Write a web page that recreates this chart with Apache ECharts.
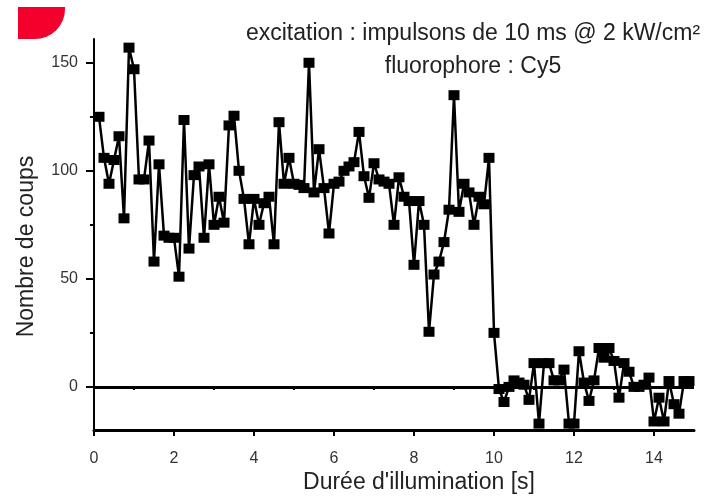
<!DOCTYPE html>
<html>
<head>
<meta charset="utf-8">
<script src="https://cdn.jsdelivr.net/npm/echarts@6/dist/echarts.min.js"></script>
<style>
    html, body { margin: 0; padding: 0; background: #fff; }
    #main { width: 712px; height: 499px; }
</style>
</head>
<body>
<div id="main"></div>
<script>
    // pas d'acquisition (s)
    var step = 0.125;
    // nombre de coups, un point par pas
    var counts = [
        125, 106, 94, 105, 116, 78, 157, 147, 96, 96,
        114, 58, 103, 70, 69, 69, 51, 123.5, 64, 98,
        102, 69, 103, 75, 88, 76, 121, 125.5, 100, 87,
        66, 87, 75, 85, 88, 66, 122.5, 94, 106, 94,
        93.5, 92, 150, 90, 110, 92, 71, 94, 95, 100,
        102, 104, 118, 97.5, 87.5, 103.5, 96, 95, 94, 75,
        97, 88, 86, 56.5, 86, 75, 25.5, 52, 58, 67,
        82, 135, 81, 94, 90, 75, 88, 84.5, 106, 25,
        -1, -7, 0, 3, 2, 1, -6, 11, -17, 11,
        11, 3, 3, 8, -17, -17, 16.5, 2, -6.5, 3,
        18, 13.5, 18, 12, -5, 11, 7, 0, 0, 1,
        4.3, -16, -5, -16, 2.7, -8, -12.4, 2.7, 2.7
    ];
    var xMajor = [0, 2, 4, 6, 8, 10, 12, 14];
    var xMinor = [1, 3, 5, 7, 9, 11, 13];
    var yMajor = [0, 50, 100, 150];
    var yMinor = [25, 75, 125];

    var points = [];
    for (var i = 0; i < counts.length; i++) {
        points.push([(i + 1) * step, counts[i]]);
    }

    var font = 'Liberation Sans';
    var myChart = echarts.init(document.getElementById('main'));
    var option = {
        animation: false,
        backgroundColor: '#fff',
        grid: { left: 94, right: 18, top: 39, bottom: 62 },
        graphic: [
            {
                type: 'rect',
                shape: { x: 18, y: 7, width: 47, height: 32, r: [0, 0, 30, 0] },
                style: { fill: '#f3002c' }
            },
            {
                type: 'text', x: 473, y: 34,
                style: {
                    text: 'excitation : impulsons de 10 ms @ 2 kW/cm²',
                    fontFamily: font, fontSize: 23, fill: '#222',
                    textAlign: 'center', textVerticalAlign: 'middle'
                }
            },
            {
                type: 'text', x: 473, y: 67,
                style: {
                    text: 'fluorophore : Cy5',
                    fontFamily: font, fontSize: 23, fill: '#222',
                    textAlign: 'center', textVerticalAlign: 'middle'
                }
            }
        ],
        xAxis: [
            {
                type: 'value', min: 0, max: 15,
                name: "Durée d'illumination [s]",
                nameLocation: 'middle', nameGap: 36,
                nameTextStyle: { fontFamily: font, fontSize: 23, color: '#222', padding: [0, 0, 0, 50] },
                axisLine: { onZero: false, lineStyle: { color: '#000', width: 3 } },
                axisTick: { customValues: xMajor, length: 6, lineStyle: { color: '#000', width: 2 } },
                axisLabel: { customValues: xMajor, margin: 20, fontFamily: font, fontSize: 16, color: '#333' },
                splitLine: { show: false }
            },
            {
                type: 'value', min: 0, max: 15, position: 'bottom',
                axisLine: { show: false },
                axisTick: { customValues: xMinor, length: 3, lineStyle: { color: '#000', width: 2 } },
                axisLabel: { show: false },
                splitLine: { show: false }
            }
        ],
        yAxis: [
            {
                type: 'value', min: -20, max: 161,
                name: 'Nombre de coups',
                nameLocation: 'middle', nameGap: 56,
                nameTextStyle: { fontFamily: font, fontSize: 23, color: '#222', padding: [0, 24, 0, 0] },
                axisLine: { show: true, onZero: false, lineStyle: { color: '#000', width: 2 } },
                axisTick: { customValues: yMajor, length: 8, lineStyle: { color: '#000', width: 2 } },
                axisLabel: { customValues: yMajor, margin: 16, fontFamily: font, fontSize: 16, color: '#333' },
                splitLine: { show: false }
            },
            {
                type: 'value', min: -20, max: 161, position: 'left',
                axisLine: { show: false },
                axisTick: { customValues: yMinor, length: 4, lineStyle: { color: '#000', width: 2 } },
                axisLabel: { show: false },
                splitLine: { show: false }
            }
        ],
        series: [{
            type: 'line',
            data: points,
            symbol: 'rect',
            symbolSize: [11, 10],
            itemStyle: { color: '#000' },
            lineStyle: { color: '#000', width: 2.5 },
            markLine: {
                silent: true,
                symbol: ['none', 'none'],
                label: { show: false },
                lineStyle: { color: '#000', width: 3, type: 'solid' },
                data: [{ yAxis: 0 }]
            }
        }]
    };
    myChart.setOption(option);
</script>
</body>
</html>
